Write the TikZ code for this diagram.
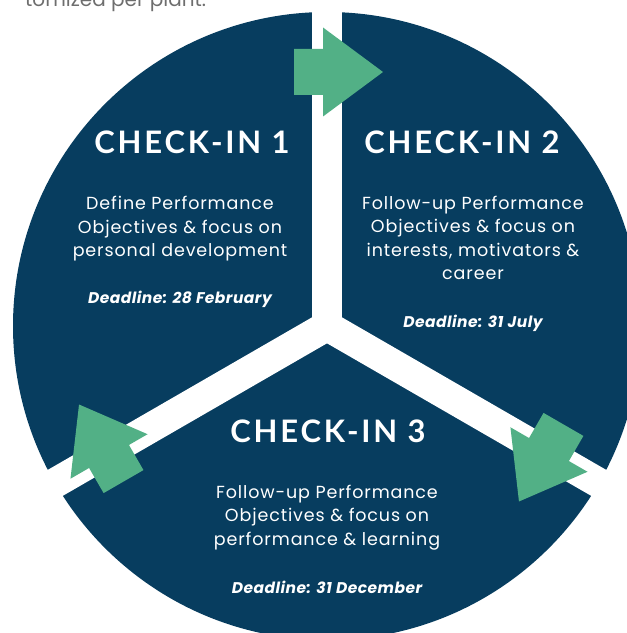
\documentclass[tikz,border=0pt]{standalone}
\usepackage{fontspec}
\setmainfont{Poppins}
\newfontfamily\headfont{Lato}
\definecolor{navy}{RGB}{7,61,95}
\definecolor{leaf}{RGB}{82,176,134}
\definecolor{capgray}{RGB}{110,110,110}
\tikzset{
  headtxt/.style={text=white, inner sep=0pt, font=\headfont\fontsize{31}{36}\selectfont\bfseries\addfontfeatures{LetterSpace=9}},
  bodytxt/.style={text=white, inner sep=0pt, align=center, font=\fontsize{17.5}{23.5}\selectfont\addfontfeatures{LetterSpace=5}},
  duetxt/.style={text=white, inner sep=0pt, font=\fontsize{15.5}{18}\selectfont\bfseries\itshape\addfontfeatures{LetterSpace=3}},
}
\begin{document}
\begin{tikzpicture}[x=1pt,y=1pt]
\useasboundingbox (0,0) rectangle (627,633);
\clip (0,0) rectangle (627,633);
\coordinate (c) at (327,307);
\fill[navy] (c) circle (314);
\begin{scope}[shift={(c)}]
  \foreach \a in {90,210,330} {\fill[white,rotate=\a] (0,-15) rectangle (420,15);}
  \foreach \a in {0,-120,120} {\fill[leaf,rotate=\a] (-33,231) -- (-4,231) -- (-4,209.5) -- (56,254) -- (-4,298.5) -- (-4,277) -- (-33,277) -- cycle;}
\end{scope}
\node[anchor=base west, inner sep=0pt, text=capgray, font=\fontsize{20}{24}\selectfont] (top) at (25,626) {tomized per plant.};
\node[headtxt] (h1) at (192,491) {CHECK-IN 1};
\node[headtxt] (h2) at (462,491) {CHECK-IN 2};
\node[headtxt] (h3) at (328,202) {CHECK-IN 3};
\node[bodytxt] (b1) at (180,404) {Define Performance\\Objectives \& focus on\\personal development};
\node[bodytxt] (b2) at (473,395) {Follow-up Performance\\Objectives \& focus on\\interests, motivators \&\\career};
\node[bodytxt] (b3) at (327,115.5) {Follow-up Performance\\Objectives \& focus on\\performance \& learning};
\node[duetxt] (d1) at (180,334) {Deadline: 28 February};
\node[duetxt] (d2) at (473,310) {Deadline: 31 July};
\node[duetxt] (d3) at (327,46) {Deadline: 31 December};
\end{tikzpicture}
\end{document}
